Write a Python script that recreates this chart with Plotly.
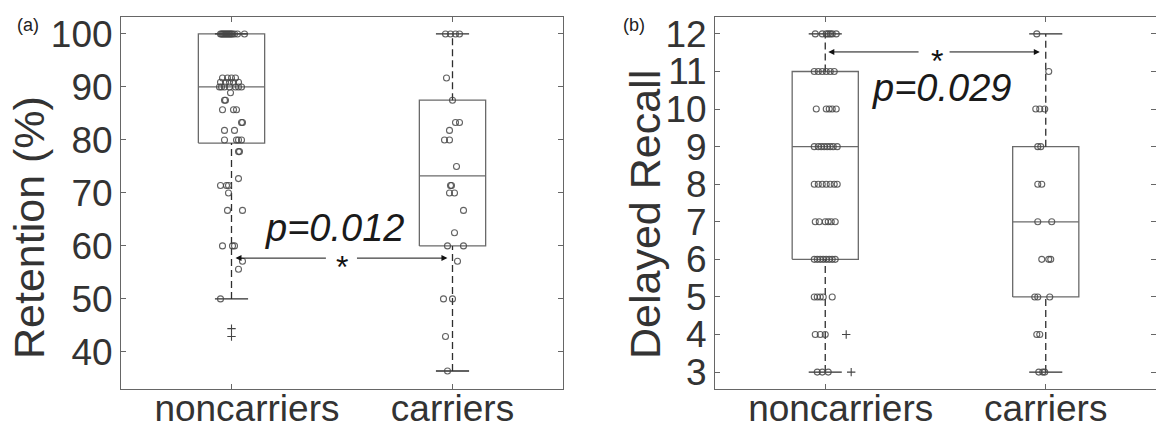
import plotly.graph_objects as go

# ---------------- data ----------------
categories = ["noncarriers", "carriers"]

# Panel (a): Retention (%)
ret_nc_values = ([100] * 16 + [91.7] * 4 + [90.9] * 5 + [90] * 7 + [88.9] + [87.5] * 2 +
                 [85.7] * 3 + [83.3] * 2 + [81.8] * 2 + [80] * 4 + [77.8] * 2 + [72.7] +
                 [71.4] * 3 + [70] + [66.7] * 2 + [60] * 3 + [57.1] + [55.6] + [50])
ret_nc_jitter = [-11, -10, -9, -8, -7, -6, -5, -4, -3, -2, -1, 0, 1, 3, 6, 13,
                 -9, -4, 0, 4,
                 -11, -6, -2, 2, 7,
                 -12, -10, -7, -2, 4, 7, 10,
                 -1,
                 -7, -6,
                 -9, 2, 5,
                 10, 11,
                 -7, 3,
                 -7, 5, 7, 10,
                 7, 8,
                 7,
                 -11, -5, -3,
                 -3,
                 -4, 11,
                 -9, 1, 3,
                 11,
                 7,
                 -11]
ret_nc_outliers = [44.4, 42.9]

ret_c_values = ([100] * 4 + [91.7] + [87.5] + [83.3] * 2 + [81.8] + [80] * 2 + [75] +
                [71.4] * 2 + [70] * 2 + [66.7] + [62.5] + [60] * 2 + [57.1] + [50] * 2 +
                [42.9] + [36.4])
ret_c_jitter = [-7, -2, 3, 7, -6, 0, 3, 7, -3, -8, -3, 4, -2, -1, -3, 2, 11, 2,
                -5, 11, 5, -9, 0, -7, -5]

# box statistics: [low whisker, q1, median, q3, high whisker]
ret_stats = {"noncarriers": [50, 79.4, 90, 100, 100],
             "carriers": [36.4, 60, 73.2, 87.5, 100]}

# Panel (b): Delayed Recall
rec_nc_values = ([12] * 7 + [11] * 6 + [10] * 5 + [9] * 8 + [8] * 7 + [7] * 6 +
                 [6] * 8 + [5] * 5 + [4] * 3 + [3] * 3)
rec_nc_jitter = [-10, -3, 1, 3, 5, 7, 11,
                 -11, -7, -3, 1, 5, 9,
                 -9, 1, 4, 7, 11,
                 -11, -7, -4, -1, 2, 5, 8, 12,
                 -11, -7, -3, 1, 5, 9, 12,
                 -10, -6, 0, 3, 6, 10,
                 -11, -8, -5, -2, 1, 4, 7, 10,
                 -11, -8, -5, -2, 7,
                 -10, -5, 0,
                 -8, -3, 3]
rec_nc_outliers = [4, 3]
rec_nc_outlier_jitter = [21, 26]

rec_c_values = [12, 11, 10, 10, 10, 9, 9, 8, 8, 7, 7, 6, 6, 6, 5, 5, 5, 4, 4, 3, 3, 3]
rec_c_jitter = [-9, 3, -10, -6, -1, -8, -5, -8, -4, -8, 6, -4, 3, 5, -11, -8, 4,
                -9, -6, -7, -3, -1]

rec_stats = {"noncarriers": [3, 6, 9, 11, 12],
             "carriers": [3, 5, 7, 9, 12]}

ret_ticks = [40, 50, 60, 70, 80, 90, 100]
rec_ticks = [3, 4, 5, 6, 7, 8, 9, 10, 11, 12]

p_a = "p=0.012"
p_b = "p=0.029"

# ---------------- styling ----------------
W, H = 1156, 429
PX_PER_CAT = 221.0
FONT = "Liberation Sans"
BOX_COL = "#6a6a6a"
WHISK_COL = "#2e2e2e"
PT_COL = "rgba(70,70,70,0.85)"
TXT_COL = "#333333"
HALF_BOX = 0.15
HALF_CAP = 0.075

fig = go.Figure()


def add_box(xa, ya, pos, stats):
    lo, q1, med, q3, hi = stats
    line_box = dict(color=BOX_COL, width=1.3)
    common = dict(xaxis=xa, yaxis=ya, mode="lines", showlegend=False, hoverinfo="skip")
    fig.add_trace(go.Scatter(x=[pos - HALF_BOX, pos + HALF_BOX, pos + HALF_BOX, pos - HALF_BOX, pos - HALF_BOX],
                             y=[q1, q1, q3, q3, q1], line=line_box, **common))
    fig.add_trace(go.Scatter(x=[pos - HALF_BOX, pos + HALF_BOX], y=[med, med], line=line_box, **common))
    dash = dict(color=WHISK_COL, width=1.3, dash="7px,4px")
    if hi > q3:
        fig.add_trace(go.Scatter(x=[pos, pos], y=[q3, hi], line=dash, **common))
    if lo < q1:
        fig.add_trace(go.Scatter(x=[pos, pos], y=[lo, q1], line=dash, **common))
    cap = dict(color=WHISK_COL, width=1.3)
    fig.add_trace(go.Scatter(x=[pos - HALF_CAP, pos + HALF_CAP], y=[hi, hi], line=cap, **common))
    fig.add_trace(go.Scatter(x=[pos - HALF_CAP, pos + HALF_CAP], y=[lo, lo], line=cap, **common))


def add_points(xa, ya, pos, values, jitter):
    fig.add_trace(go.Scatter(
        x=[pos + j / PX_PER_CAT for j in jitter], y=values, xaxis=xa, yaxis=ya,
        mode="markers", showlegend=False, hoverinfo="skip",
        marker=dict(symbol="circle-open", size=6, color=PT_COL, line=dict(width=1.1, color=PT_COL))))


def add_outliers(xa, ya, pos, values, jitter=None):
    if jitter is None:
        jitter = [0] * len(values)
    fig.add_trace(go.Scatter(
        x=[pos + j / PX_PER_CAT for j in jitter], y=values, xaxis=xa, yaxis=ya,
        mode="markers", showlegend=False, hoverinfo="skip",
        marker=dict(symbol="cross-thin-open", size=6, color="#444444",
                    line=dict(width=1.1, color="#444444"))))


pos = {c: i + 1 for i, c in enumerate(categories)}

# panel a
for c in categories:
    add_box("x", "y", pos[c], ret_stats[c])
add_points("x", "y", pos["noncarriers"], ret_nc_values, ret_nc_jitter)
add_points("x", "y", pos["carriers"], ret_c_values, ret_c_jitter)
add_outliers("x", "y", pos["noncarriers"], ret_nc_outliers)

# panel b
for c in categories:
    add_box("x2", "y2", pos[c], rec_stats[c])
add_points("x2", "y2", pos["noncarriers"], rec_nc_values, rec_nc_jitter)
add_points("x2", "y2", pos["carriers"], rec_c_values, rec_c_jitter)
add_outliers("x2", "y2", pos["noncarriers"], rec_nc_outliers, rec_nc_outlier_jitter)

axis_common = dict(showline=True, linecolor="#666666", linewidth=1, mirror="allticks",
                   ticks="inside", ticklen=5, tickcolor="#666666", showgrid=False,
                   zeroline=False, automargin=False)
ytick_font = dict(family=FONT, size=37, color=TXT_COL)
xtick_font = dict(family=FONT, size=37, color=TXT_COL)

# the first label sits a little right of its tick in the reference
tick_text = ["\u00a0\u00a0\u00a0" + categories[0], categories[1]]

top = 1 - 17 / H
bottom = 1 - 389 / H
xa_common = dict(range=[0.5, 2.5], tickvals=[1, 2], ticktext=tick_text,
                 tickfont=xtick_font, ticklabelstandoff=-13, **axis_common)
fig.update_layout(
    width=W, height=H, margin=dict(l=0, r=0, t=0, b=0),
    paper_bgcolor="white", plot_bgcolor="white", showlegend=False,
    xaxis=dict(domain=[121 / W, 563 / W], anchor="y", **xa_common),
    yaxis=dict(domain=[bottom, top], range=[33.0, 103.2], tickvals=ret_ticks,
               anchor="x", tickfont=ytick_font, **axis_common),
    xaxis2=dict(domain=[715 / W, 1.0], anchor="y2", **xa_common),
    yaxis2=dict(domain=[bottom, top], range=[2.55, 12.45], tickvals=rec_ticks,
                anchor="x2", tickfont=ytick_font, **axis_common),
)

ann = []
# panel labels
for lab, px in (("(a)", 28), ("(b)", 634)):
    ann.append(dict(text=lab, x=px / W, y=1 - 25 / H, xref="paper", yref="paper", showarrow=False,
                    xanchor="center", yanchor="middle",
                    font=dict(family=FONT, size=18, color="#222")))
# y titles
ann.append(dict(text="Retention (%)", x=29 / W, y=1 - 228 / H, xref="paper", yref="paper",
                showarrow=False, textangle=-90, xanchor="center", yanchor="middle",
                font=dict(family=FONT, size=43, color=TXT_COL)))
ann.append(dict(text="Delayed Recall", x=645 / W, y=1 - 215 / H, xref="paper", yref="paper",
                showarrow=False, textangle=-90, xanchor="center", yanchor="middle",
                font=dict(family=FONT, size=43, color=TXT_COL)))


def sig(xr, yr, y, tip_l, tip_r, gap_l, gap_r, star_x, ptxt, px, py):
    out = []
    for tip, start in ((tip_l, gap_l), (tip_r, gap_r)):
        out.append(dict(x=tip, y=y, ax=start, ay=y, xref=xr, yref=yr, axref=xr, ayref=yr,
                        text="", showarrow=True, arrowhead=2, arrowsize=1.2, arrowwidth=1,
                        arrowcolor="#111111"))
    out.append(dict(x=star_x, y=y, xref=xr, yref=yr, text="*", showarrow=False, yshift=-9,
                    xanchor="center", yanchor="middle",
                    font=dict(family=FONT, size=32, color="#111111")))
    out.append(dict(x=px, y=py, xref=xr, yref=yr, text="<i>" + ptxt + "</i>", showarrow=False,
                    xanchor="center", yanchor="middle",
                    font=dict(family=FONT, size=38, color="#1a1a1a")))
    return out


ann += sig("x", "y", 57.7, 1.018, 1.977, 1.434, 1.561, 1.502, p_a, 1.466, 63.3)
ann += sig("x2", "y2", 11.52, 1.014, 1.973, 1.43, 1.557, 1.507, p_b, 1.525, 10.55)
fig.update_layout(annotations=ann)

fig.write_html("out.html", config={"displayModeBar": False},
               post_script="document.body.style.margin='0';document.body.style.overflow='hidden';")
